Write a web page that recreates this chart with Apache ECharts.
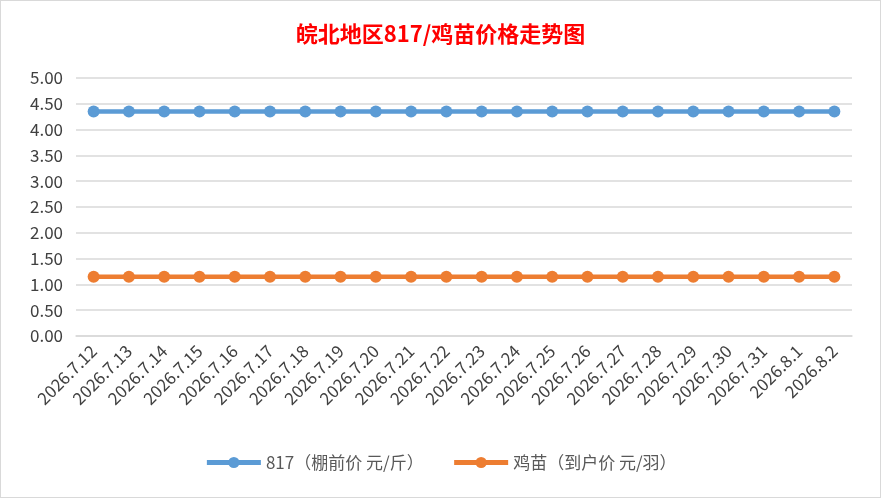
<!DOCTYPE html>
<html>
<head>
	<meta charset="utf-8" />
	<title>皖北地区817/鸡苗价格走势图</title>
	<script src="https://cdn.jsdelivr.net/npm/echarts@6/dist/echarts.min.js"></script>
	<style>
		html, body { margin: 0; padding: 0; background: #fff; }
		#main {
			width: 881px;
			height: 498px;
			border: 1px solid #d9d9d9;
			box-sizing: border-box;
		}
	</style>
</head>
<body>
	<div id="main"></div>
	<script type="text/javascript">
		var dates = ['2026.7.12', '2026.7.13', '2026.7.14', '2026.7.15', '2026.7.16', '2026.7.17',
			'2026.7.18', '2026.7.19', '2026.7.20', '2026.7.21', '2026.7.22', '2026.7.23',
			'2026.7.24', '2026.7.25', '2026.7.26', '2026.7.27', '2026.7.28', '2026.7.29',
			'2026.7.30', '2026.7.31', '2026.8.1', '2026.8.2'];
		var price817 = [4.35, 4.35, 4.35, 4.35, 4.35, 4.35, 4.35, 4.35, 4.35, 4.35, 4.35,
			4.35, 4.35, 4.35, 4.35, 4.35, 4.35, 4.35, 4.35, 4.35, 4.35, 4.35];
		var priceChick = [1.15, 1.15, 1.15, 1.15, 1.15, 1.15, 1.15, 1.15, 1.15, 1.15, 1.15,
			1.15, 1.15, 1.15, 1.15, 1.15, 1.15, 1.15, 1.15, 1.15, 1.15, 1.15];
		var seriesNames = ['817（棚前价 元/斤）', '鸡苗（到户价 元/羽）'];

		var font = '"Noto Sans CJK SC", "Noto Sans", sans-serif';
		var myChart = echarts.init(document.getElementById('main'));

		function lineSeries(name, data, color) {
			return {
				name: name,
				type: 'line',
				data: data,
				symbol: 'circle',
				symbolSize: 12,
				itemStyle: { color: color },
				lineStyle: { color: color, width: 4.5 },
				animation: false
			};
		}

		myChart.setOption({
			title: {
				text: '皖北地区817/鸡苗价格走势图',
				left: 'center',
				top: 17,
				textStyle: { color: '#ff0000', fontSize: 22, fontWeight: 'bold', fontFamily: font }
			},
			legend: {
				bottom: 21,
				left: 'center',
				itemWidth: 54,
				itemHeight: 14,
				itemGap: 28,
				lineStyle: { width: 5 },
				textStyle: { color: '#595959', fontSize: 17, fontFamily: font }
			},
			grid: { left: 75, right: 28, top: 77, bottom: 161 },
			xAxis: {
				type: 'category',
				data: dates,
				boundaryGap: true,
				axisLine: { show: true, lineStyle: { color: '#d9d9d9', width: 1.5 } },
				axisTick: { show: false },
				axisLabel: { rotate: 45, color: '#404040', fontSize: 17, fontFamily: font, interval: 0, margin: 12 }
			},
			yAxis: {
				type: 'value',
				min: 0,
				max: 5,
				interval: 0.5,
				axisLine: { show: false },
				axisTick: { show: false },
				axisLabel: {
					color: '#404040', fontSize: 17, fontFamily: font, margin: 13,
					formatter: function (v) { return v.toFixed(2); }
				},
				splitLine: { lineStyle: { color: '#d9d9d9', width: 1.5 } }
			},
			series: [
				lineSeries(seriesNames[0], price817, '#5b9bd5'),
				lineSeries(seriesNames[1], priceChick, '#ed7d31')
			]
		});
	</script>
</body>
</html>
